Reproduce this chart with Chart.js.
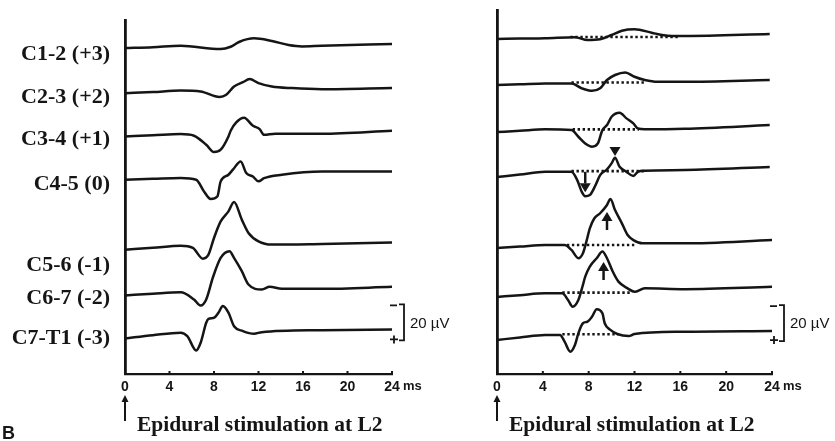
<!DOCTYPE html>
<html>
<head>
<meta charset="utf-8">
<script src="https://cdn.jsdelivr.net/npm/chart.js@4.4.0/dist/chart.umd.min.js"></script>
<style>
html, body { margin: 0; padding: 0; background: #fff; }
#wrap { position: relative; width: 835px; height: 441px; }
canvas { position: absolute; left: 0; top: 0; }
</style>
</head>
<body>
<div id="wrap">
  <canvas id="leftPanel" width="835" height="441"></canvas>
  <canvas id="rightPanel" width="835" height="441"></canvas>
</div>
<script>
// time axis (ms)
const timeTicks = [0, 4, 8, 12, 16, 20, 24];
const leftLabels = ['C1-2 (+3)', 'C2-3 (+2)', 'C3-4 (+1)', 'C4-5 (0)', 'C5-6 (-1)', 'C6-7 (-2)', 'C7-T1 (-3)'];

// baseline of each trace, in µV counted down from the top of the axis
const leftBaselines = [15.6, 40.7, 64.8, 88.9, 127.8, 153.3, 177.2];
const rightBaselines = [16.1, 41.7, 67.8, 92.8, 132.2, 159.4, 183.3];

// traces as [ms, µV], negative is up
const leftC12 = [[0, 0], [2.5, -0.5], [5.0, -1.3], [8.6, 0.6], [9.5, -0.7], [10.3, -3.5], [11.6, -5.4], [13.2, -3.9], [14.7, -1.7], [15.9, -0.9], [17.7, -1.3], [24, -2.2]];
const leftC23 = [[0, 0], [2.5, -0.6], [5.0, -1.4], [6.8, -0.9], [8.5, 2.1], [9.1, 0.9], [9.8, -3.7], [10.6, -6.1], [11.2, -7.8], [12.0, -5.6], [13.2, -3.7], [15.0, -2.8], [17.7, -2.2], [24, -2.9]];
const leftC34 = [[0, 0], [2.5, -0.6], [5.0, -1.3], [6.2, -0.4], [7.3, 4.6], [8.0, 8.7], [8.6, 7.4], [9.3, 0], [9.5, -3.2], [10.0, -7.8], [10.7, -10.4], [11.5, -5.9], [12.1, -4.1], [12.5, -0.9], [13.5, -1.5], [17.7, -1.5], [24, -3.2]];
const leftC45 = [[0, 0], [2.5, -0.5], [5.0, -1.0], [6.4, 0], [7.1, 6.5], [7.7, 10.7], [8.3, 9.3], [8.6, 0.9], [9.3, -2.8], [9.7, -5.6], [10.4, -10.2], [10.9, -3.7], [11.5, -1.8], [12.0, 0.9], [12.5, -0.9], [14.1, -2.8], [17.7, -4.6], [24, -4.6]];
const leftC56 = [[0, 0], [2.5, -1.0], [5.0, -2.2], [6.1, -1.0], [7.0, 5.0], [7.5, 2.8], [8.0, -6.5], [8.6, -15.7], [9.3, -21.3], [9.8, -26.5], [10.5, -16.7], [11.1, -9.3], [12.0, -4.6], [13.2, -2.8], [17.7, -3.2], [24, -4.0]];
const leftC67 = [[0, 0], [2.5, -1.0], [5.0, -1.8], [6.2, 2.2], [6.8, 5.6], [7.3, 2.2], [7.9, -10.0], [8.6, -20.9], [9.4, -24.6], [9.8, -20.9], [10.5, -13.5], [11.1, -6.1], [12.3, -3.3], [13.0, -4.8], [14.1, -3.7], [17.7, -3.7], [24, -4.8]];
const leftC7T1 = [[0, 0], [2.5, -1.8], [5.0, -3.2], [5.6, -1.3], [6.4, 6.7], [6.8, 2.4], [7.3, -8.7], [7.5, -10.9], [8.0, -11.5], [8.4, -14.3], [8.8, -18.0], [9.3, -14.3], [9.8, -6.8], [10.6, -4.1], [11.6, -2.6], [12.3, -3.5], [17.7, -4.6], [24, -5.0]];

const rightT1 = [[0, 0], [2.0, -0.2], [4.2, -0.4], [6.8, -1.0], [7.9, 0.6], [9.0, 0.2], [10.0, -2.2], [10.9, -4.6], [12.0, -5.4], [13.5, -3.5], [14.4, -2.2], [15.3, -1.7], [16.4, -1.7], [23.8, -2.8]];
const rightT2 = [[0, 0], [2.0, -0.4], [4.2, -0.9], [6.5, -0.9], [7.4, 1.8], [8.3, 3.2], [9.0, 1.8], [9.6, -2.8], [10.3, -5.6], [11.2, -7.0], [12.0, -4.6], [12.9, -2.8], [14.0, -1.8], [16.4, -1.8], [23.8, -2.8]];
const rightT3 = [[0, 0], [2.0, -0.7], [4.2, -1.5], [6.5, -1.1], [7.1, 2.6], [7.7, 6.3], [8.3, 8.1], [8.8, 6.3], [9.2, -1.1], [9.6, -3.9], [10.0, -8.5], [10.7, -10.7], [11.3, -7.6], [11.9, -4.8], [12.3, -2.0], [12.9, -1.5], [16.4, -1.8], [23.8, -3.9]];
const rightT4 = [[0, 0], [2.0, -1.4], [4.2, -2.9], [6.5, -2.9], [7.0, 1.7], [7.4, 8.2], [7.7, 10.6], [8.1, 10.0], [8.6, 4.5], [9.0, -1.1], [9.6, -4.3], [10.0, -7.6], [10.3, -10.7], [10.7, -5.7], [11.3, -2.9], [11.9, -0.6], [12.3, -2.9], [12.9, -3.5], [16.4, -3.9], [23.8, -5.6]];
const rightT5 = [[0, 0], [2.0, -0.8], [4.2, -1.7], [5.9, -1.7], [6.5, 1.1], [7.1, 5.7], [7.5, 2.9], [7.8, -3.5], [8.1, -10.9], [8.5, -16.5], [9.0, -19.3], [9.6, -23.9], [9.9, -27.2], [10.3, -21.1], [10.9, -13.7], [11.4, -7.2], [11.9, -4.4], [12.7, -2.6], [16.4, -2.6], [24, -4.4]];
const rightT6 = [[0, 0], [2.0, -1.0], [4.2, -2.0], [5.7, -2.0], [6.2, 1.7], [6.6, 5.4], [7.1, 1.7], [7.5, -6.7], [7.7, -11.3], [8.1, -16.9], [8.7, -21.5], [9.2, -25.2], [9.6, -21.5], [10.1, -14.1], [10.6, -8.5], [11.4, -4.8], [12.0, -2.9], [12.9, -4.8], [16.4, -4.3], [24, -5.6]];
const rightT7 = [[0, 0], [2.0, -1.4], [4.2, -2.8], [5.5, -2.8], [5.9, 0.9], [6.4, 6.5], [6.8, 2.8], [7.1, -3.7], [7.5, -9.3], [7.9, -10.2], [8.3, -13.0], [8.7, -17.1], [9.2, -14.8], [9.4, -9.3], [9.9, -5.6], [10.5, -3.3], [11.5, -2.2], [12.0, -3.3], [16.4, -4.6], [24, -5.0]];

// dotted reference lines on the right: [from ms, to ms, µV]
const rightDotted = [[6.4, 15.8, -1.1], [6.5, 13.0, -1.4], [6.6, 12.4, -1.5], [6.5, 12.9, -3.3], [6.1, 12.0, -1.7], [5.7, 11.6, -2.4], [5.7, 10.6, -3.2]];
// arrows on the right: [trace, ms, tail µV, tip µV]
const rightArrows = [[3, 7.7, -2.9, 8.5], [3, 10.3, -16.8, -11.7], [4, 9.6, -10.0, -20.0], [5, 9.3, -9.4, -19.4]];

const scaleBarUV = 20;
const INK = '#151515';

function arrow(ctx, x, y0, y1, head, half) {
  const dir = Math.sign(y1 - y0);
  const len = Math.abs(y1 - y0);
  if (len > head + 1) {
    ctx.beginPath();
    ctx.moveTo(x, y0);
    ctx.lineTo(x, y1 - dir * head);
    ctx.stroke();
  }
  ctx.beginPath();
  ctx.moveTo(x, y1);
  ctx.lineTo(x - half, y1 - dir * head);
  ctx.lineTo(x + half, y1 - dir * head);
  ctx.closePath();
  ctx.fill();
}

function decorations(panel) {
  return {
    id: 'decor',
    afterDraw(chart) {
      const { ctx, scales: { x, y } } = chart;
      ctx.save();
      ctx.strokeStyle = INK;
      ctx.fillStyle = INK;
      ctx.lineWidth = 2;

      // small marks on the time axis
      timeTicks.slice(1).forEach(t => {
        const px = x.getPixelForValue(t);
        ctx.beginPath();
        ctx.moveTo(px, y.bottom);
        ctx.lineTo(px, y.bottom - 3);
        ctx.stroke();
      });
      ctx.font = 'bold 13px "Liberation Sans", Arial, sans-serif';
      ctx.textBaseline = 'middle';
      ctx.textAlign = 'left';
      ctx.fillText('ms', x.getPixelForValue(24) + 11, y.bottom + 12);

      // arrows
      panel.arrows.forEach(([i, t, tail, tip]) => {
        const px = x.getPixelForValue(t);
        const base = panel.baselines[i];
        ctx.lineWidth = 2.5;
        arrow(ctx, px, y.getPixelForValue(base + tail), y.getPixelForValue(base + tip), 9, 5.5);
      });

      // trace labels
      if (panel.labels) {
        const shift = [6, 4, 3, 5, 16, 3, 0];
        ctx.font = 'bold 22px "Liberation Serif", "Times New Roman", serif';
        ctx.textAlign = 'right';
        ctx.textBaseline = 'middle';
        panel.labels.forEach((lab, i) => {
          ctx.fillText(lab, x.left - 15, y.getPixelForValue(panel.baselines[i]) + shift[i]);
        });
      }

      // 20 µV scale bar
      const top = y.getPixelForValue(panel.barTop);
      const bot = y.getPixelForValue(panel.barTop + scaleBarUV);
      const bx = x.right + 12;
      ctx.lineWidth = 1.8;
      ctx.beginPath();
      ctx.moveTo(bx - 5, top); ctx.lineTo(bx, top); ctx.lineTo(bx, bot); ctx.lineTo(bx - 5, bot);
      ctx.stroke();
      ctx.beginPath();
      ctx.moveTo(x.right - 2, top + 1); ctx.lineTo(x.right + 5, top + 1);
      ctx.moveTo(x.right - 2, bot - 1); ctx.lineTo(x.right + 6, bot - 1);
      ctx.moveTo(x.right + 2, bot - 5); ctx.lineTo(x.right + 2, bot + 3);
      ctx.stroke();
      ctx.font = '15px "Liberation Sans", Arial, sans-serif';
      ctx.textAlign = 'left';
      ctx.fillText('20 µV', bx + 6, (top + bot) / 2 + 1);

      // stimulus marker and caption
      const x0 = x.getPixelForValue(0);
      ctx.lineWidth = 2;
      arrow(ctx, x0, 421, 395, 7, 3.5);
      ctx.font = 'bold 21.5px "Liberation Serif", "Times New Roman", serif';
      ctx.textBaseline = 'alphabetic';
      ctx.fillText('Epidural stimulation at L2', x0 + 12, 431);
      if (panel.letter) {
        ctx.font = 'bold 18px "Liberation Sans", Arial, sans-serif';
        ctx.fillText(panel.letter, 2, 439);
      }
      ctx.restore();
    }
  };
}

function makePanel(id, panel) {
  const datasets = [];
  if (panel.dotted) {
    panel.dotted.forEach(([t0, t1, v], i) => {
      datasets.push({
        data: [{ x: t0, y: panel.baselines[i] + v }, { x: t1, y: panel.baselines[i] + v }],
        borderColor: INK, borderWidth: 2.6, borderDash: [2.4, 2.6], pointRadius: 0
      });
    });
  }
  panel.traces.forEach((pts, i) => {
    datasets.push({
      data: pts.map(([t, v]) => ({ x: t, y: panel.baselines[i] + v })),
      borderColor: INK, borderWidth: 2.5, pointRadius: 0,
      cubicInterpolationMode: 'monotone'
    });
  });

  new Chart(document.getElementById(id), {
    type: 'line',
    data: { datasets },
    options: {
      responsive: false,
      animation: false,
      layout: { padding: panel.padding },
      plugins: { legend: { display: false }, tooltip: { enabled: false } },
      scales: {
        x: {
          type: 'linear', min: 0, max: 24,
          afterBuildTicks: s => { s.ticks = timeTicks.map(v => ({ value: v })); },
          afterFit: s => { s.height = 30; },
          grid: { display: false, drawTicks: false },
          border: { display: true, color: INK, width: 2.2 },
          ticks: {
            color: INK, padding: 5, maxRotation: 0,
            font: { family: '"Liberation Sans", Arial, sans-serif', size: 14, weight: 'bold' }
          }
        },
        y: {
          min: 0, max: panel.yMax, reverse: true,
          afterFit: s => { s.width = 0; },
          grid: { display: false, drawTicks: false },
          border: { display: true, color: INK, width: 2.8 },
          ticks: { display: false }
        }
      }
    },
    plugins: [decorations(panel)]
  });
}

makePanel('leftPanel', {
  traces: [leftC12, leftC23, leftC34, leftC45, leftC56, leftC67, leftC7T1],
  baselines: leftBaselines,
  labels: leftLabels,
  arrows: [],
  barTop: 158.3,
  yMax: 197,
  letter: 'B',
  padding: { left: 125, right: 443, top: 20, bottom: 37 }
});

makePanel('rightPanel', {
  traces: [rightT1, rightT2, rightT3, rightT4, rightT5, rightT6, rightT7],
  baselines: rightBaselines,
  dotted: rightDotted,
  arrows: rightArrows,
  barTop: 163.9,
  yMax: 202.2,
  padding: { left: 497, right: 63, top: 10, bottom: 37 }
});
</script>
</body>
</html>
